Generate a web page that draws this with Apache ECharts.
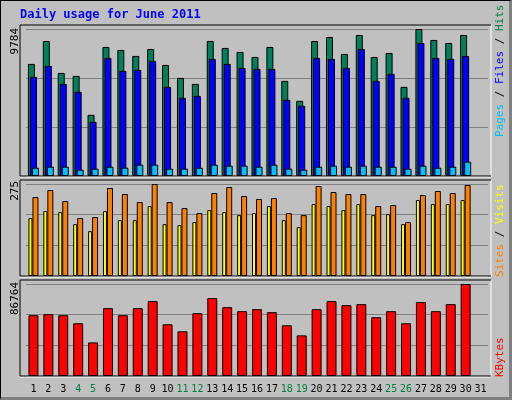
<!DOCTYPE html>
<html><head><meta charset="utf-8">
<script src="https://cdn.jsdelivr.net/npm/echarts@6/dist/echarts.min.js"></script>
<style>html,body{margin:0;padding:0;background:#fff}
#wrap{position:absolute;left:0;top:0;width:508px;height:396px;border:1px solid #000;border-right:3px solid #808080;border-bottom:3px solid #808080;background:#C0C0C0}
#c{width:512px;height:400px;position:absolute;left:0;top:0}</style>
</head><body><div id="wrap"></div><div id="c"></div>
<script>
const days = ['1','2','3','4','5','6','7','8','9','10','11','12','13','14','15','16','17','18','19','20','21','22','23','24','25','26','27','28','29','30','31'];
const weekend = ['4','5','11','12','18','19','25','26'];
const hits = [7460,8987,6862,6663,4073,8589,8390,7991,8456,7393,6530,6132,8987,8522,8257,7925,8589,6331,5003,8987,9253,8124,9386,7925,8190,5932,9784,9054,8854,9386];
const files = [6597,7327,6132,5600,3608,7858,6995,7061,7659,5932,5202,5335,7792,7460,7194,7128,7128,5069,4671,7858,7792,7194,8456,6331,6796,5202,8854,7858,7792,7991];
const pages = [553,620,620,420,487,620,553,753,753,487,487,553,753,686,686,620,753,487,420,620,686,620,686,620,620,487,686,553,620,952];
const visits = [236,257,224,173,176,263,245,221,275,221,203,188,248,266,239,230,233,188,182,269,251,245,245,209,212,161,242,254,248,272];
const sites = [173,194,191,155,134,194,167,167,209,155,152,161,197,191,182,188,209,167,146,215,209,197,215,182,185,155,227,215,215,227];
const kbytes = [57316,58265,57316,49716,31666,63965,57316,63965,70615,48766,42116,59215,73465,64915,61115,63015,60165,47816,38316,63015,70615,66815,67765,55416,61115,49716,69665,61115,67765,86764];
const maxLabels = ['9784','275','86764'];
const maxes = [9784,275,86764];

const F = 'DejaVu Sans Mono, monospace';
const panels = [{top:25,h:151},{top:180,h:96},{top:280,h:96}];
const chart = echarts.init(document.getElementById('c'));
const grids = panels.map(p=>({left:26,right:24,top:p.top+4,height:p.h-4}));
const xAxes = panels.map((p,i)=>({type:'category',gridIndex:i,data:days,
  axisLine:{show:false},axisTick:{show:false},
  axisLabel:{show:i===2,interval:0,margin:8,fontFamily:F,fontSize:10,
    color:function(v){return weekend.indexOf(v)>=0?'#008040':'#000';}}}));
const yAxes = panels.map((p,i)=>({type:'value',gridIndex:i,min:0,max:maxes[i],interval:maxes[i]/3,
  axisLabel:{show:false},axisLine:{show:false},axisTick:{show:false},
  splitLine:{lineStyle:{color:'#808080',width:1}}}));
const bs = {borderColor:'#000',borderWidth:1};
const series = [
 {type:'bar',xAxisIndex:0,yAxisIndex:0,data:hits,barWidth:7,barGap:'-71%',itemStyle:Object.assign({color:'#00805A'},bs)},
 {type:'bar',xAxisIndex:0,yAxisIndex:0,data:files,barWidth:7,barGap:'-71%',itemStyle:Object.assign({color:'#0000FF'},bs)},
 {type:'bar',xAxisIndex:0,yAxisIndex:0,data:pages,barWidth:7,barGap:'-71%',itemStyle:Object.assign({color:'#00C0FF'},bs)},
 {type:'bar',xAxisIndex:1,yAxisIndex:1,data:sites,barWidth:4,barGap:'0%',itemStyle:Object.assign({color:'#FFFF00'},bs)},
 {type:'bar',xAxisIndex:1,yAxisIndex:1,data:visits,barWidth:6,barGap:'0%',itemStyle:Object.assign({color:'#FF8000'},bs)},
 {type:'bar',xAxisIndex:2,yAxisIndex:2,data:kbytes,barWidth:10,itemStyle:Object.assign({color:'#FF0000'},bs)}
];
const g = [];
panels.forEach((p,i)=>{
  g.push({type:'polyline',z:-1,shape:{points:[[491,p.top],[491,p.top+p.h+1],[20,p.top+p.h+1]]},style:{stroke:'#fff',lineWidth:1,fill:null}});
  g.push({type:'polyline',z:-1,shape:{points:[[20,p.top+p.h],[20,p.top],[491,p.top]]},style:{stroke:'#000',lineWidth:1,fill:null}});
  g.push({type:'line',z:-1,shape:{x1:20,y1:p.top+p.h,x2:491,y2:p.top+p.h},style:{stroke:'#000',lineWidth:1}});
});
const ly=[28,181,282];
maxLabels.forEach((t,i)=>g.push({type:'text',x:15,y:ly[i],rotation:Math.PI/2,style:{text:t,font:'11px '+F,fill:'#000',align:'right',verticalAlign:'middle'}}));
function side(y,rich,text){g.push({type:'text',x:500,y:y,rotation:Math.PI/2,style:{text:text,rich:rich,font:'11px '+F,align:'left',verticalAlign:'middle'}});}
side(137,{p:{fill:'#00C0FF',font:'11px '+F},f:{fill:'#0000FF',font:'11px '+F},h:{fill:'#008040',font:'11px '+F},s:{fill:'#000',font:'11px '+F}},'{p|Pages}{s| / }{f|Files}{s| / }{h|Hits}');
side(277,{o:{fill:'#FF8000',font:'11px '+F},y:{fill:'#FFFF00',font:'11px '+F},s:{fill:'#000',font:'11px '+F}},'{o|Sites}{s| / }{y|Visits}');
side(377,{r:{fill:'#FF0000',font:'11px '+F}},'{r|KBytes}');
g.push({type:'text',x:20,y:15,style:{text:'Daily usage for June 2011',font:'bold 12px '+F,fill:'#0000FF',verticalAlign:'middle'}});
chart.setOption({animation:false,grid:grids,xAxis:xAxes,yAxis:yAxes,series:series,graphic:g});
</script></body></html>
